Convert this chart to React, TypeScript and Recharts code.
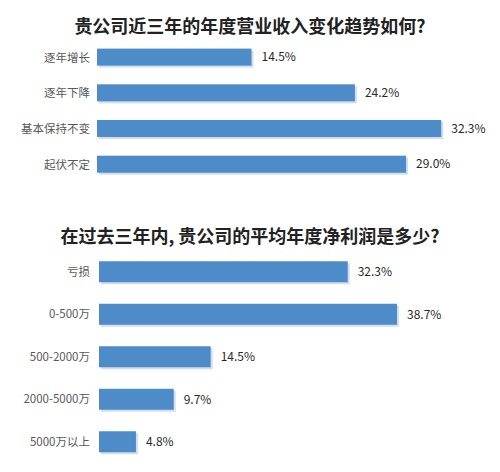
import { FC } from 'react';
import { Bar, BarChart, LabelList, XAxis, YAxis } from 'recharts';

const revenueCategories = ['逐年增长', '逐年下降', '基本保持不变', '起伏不定'];
const revenueValues = [14.5, 24.2, 32.3, 29.0];

const profitCategories = ['亏损', '0-500万', '500-2000万', '2000-5000万', '5000万以上'];
const profitValues = [32.3, 38.7, 14.5, 9.7, 4.8];

const revenueData = revenueCategories.map((name, i) => ({ name, value: revenueValues[i] }));
const profitData = profitCategories.map((name, i) => ({ name, value: profitValues[i] }));

const FONT = '"Noto Sans CJK SC", "Noto Sans", sans-serif';
const BLUE = '#4d8cc8';

const ShadowBar = (props: any) => {
    const { x, y, width, height } = props;
    if (!width || width <= 0) return null;
    return (
        <g>
            <rect x={x + 2} y={y + 2} width={width} height={height} fill='#9fb4d8' opacity={0.45} />
            <rect x={x} y={y} width={width} height={height} fill={BLUE} />
        </g>
    );
};

const Title: FC<{ top: number; text: string }> = ({ top, text }) => (
    <div
        style={{
            position: 'absolute',
            top,
            left: 0,
            width: 500,
            textAlign: 'center',
            fontFamily: FONT,
            fontWeight: 700,
            fontSize: 18,
            lineHeight: '26px',
            color: '#222',
        }}
    >
        {text}
    </div>
);

export default function App() {
    return (
        <div style={{ position: 'absolute', top: 0, left: 0, width: 500, height: 472, background: '#fff' }}>
            <Title top={12} text='贵公司近三年的年度营业收入变化趋势如何?' />
            <div style={{ position: 'absolute', top: 0, left: 0 }}>
                <BarChart
                    width={500}
                    height={190}
                    data={revenueData}
                    layout='vertical'
                    margin={{ top: 39.6, bottom: 7.6, left: 0, right: 30 }}
                >
                    <XAxis type='number' domain={[0, 35]} hide />
                    <YAxis
                        type='category'
                        dataKey='name'
                        width={97}
                        tickLine={false}
                        axisLine={false}
                        tickMargin={1}
                        tick={{ fontSize: 11.5, fill: '#595959', fontFamily: FONT }}
                    />
                    <Bar dataKey='value' barSize={17} shape={ShadowBar} isAnimationActive={false}>
                        <LabelList
                            dataKey='value'
                            position='right'
                            offset={10}
                            formatter={(v: any) => `${Number(v).toFixed(1)}%`}
                            style={{ fontSize: 12, fill: '#2a2a2a', fontFamily: FONT }}
                        />
                    </Bar>
                </BarChart>
            </div>
            <Title top={222} text='在过去三年内, 贵公司的平均年度净利润是多少?' />
            <div style={{ position: 'absolute', top: 210, left: 0 }}>
                <BarChart
                    width={500}
                    height={262}
                    data={profitData}
                    layout='vertical'
                    margin={{ top: 40.25, bottom: 9.25, left: 0, right: 54.5 }}
                >
                    <XAxis type='number' domain={[0, 45]} hide />
                    <YAxis
                        type='category'
                        dataKey='name'
                        width={99}
                        tickLine={false}
                        axisLine={false}
                        tickMargin={3}
                        tick={{ fontSize: 11.5, fill: '#595959', fontFamily: FONT }}
                    />
                    <Bar dataKey='value' barSize={21} shape={ShadowBar} isAnimationActive={false}>
                        <LabelList
                            dataKey='value'
                            position='right'
                            offset={10}
                            formatter={(v: any) => `${Number(v).toFixed(1)}%`}
                            style={{ fontSize: 12, fill: '#2a2a2a', fontFamily: FONT }}
                        />
                    </Bar>
                </BarChart>
            </div>
        </div>
    );
}
